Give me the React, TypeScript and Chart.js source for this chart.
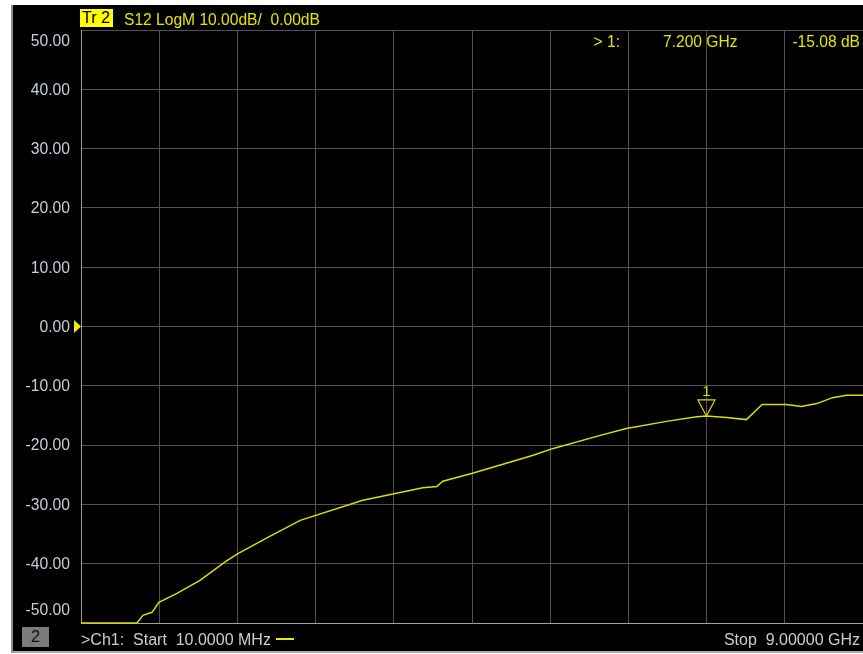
import React, { useEffect, useRef } from 'react';
import { Chart, registerables } from 'chart.js';

Chart.register(...registerables);

// ---- data ----
const START_GHZ = 0.01;
const STOP_GHZ = 9.0;
const freqGHz = [
  0.01, 0.653, 0.722, 0.826, 0.906, 1.113, 1.377, 1.687, 1.814, 2.18, 2.53, 3.25,
  3.94, 4.10, 4.17, 4.50, 5.20, 5.43, 5.97, 6.28, 6.74, 7.09, 7.20, 7.43, 7.66,
  7.73, 7.84, 8.12, 8.29, 8.47, 8.65, 8.81, 9.0,
];
const s12dB = [
  -50.0, -50.0, -48.7, -48.2, -46.5, -45.0, -42.8, -39.5, -38.3, -35.4, -32.7, -29.3,
  -27.2, -27.0, -26.1, -24.8, -21.75, -20.6, -18.4, -17.2, -16.0, -15.2, -15.08, -15.35, -15.7,
  -14.7, -13.15, -13.15, -13.5, -13.0, -12.0, -11.6, -11.6,
];
const yTicks = [50, 40, 30, 20, 10, 0, -10, -20, -30, -40, -50];
const yTickLabels = ['50.00', '40.00', '30.00', '20.00', '10.00', '0.00', '-10.00', '-20.00', '-30.00', '-40.00', '-50.00'];
const X_DIVISIONS = 10;
const REF_LEVEL = 0;
const MARKER_FREQ = 7.2;
const MARKER_DB = -15.08;
const MARKER_LABEL = '1';

// ---- styles ----
const TRACE = '#dede00';
const GRID = '#525252';
const BORDER = '#a0a0a0';
const LABEL = '#c6ceda';
const YELLOW_TXT = '#e4e400';
const FONT = '"Liberation Sans", Arial, sans-serif';

const overlay = {
  id: 'vnaOverlay',
  afterDraw(chart: any) {
    const ctx = chart.ctx;
    const xs = chart.scales.x;
    const ys = chart.scales.y;
    const { top, bottom, left } = chart.chartArea;
    ctx.save();
    // y tick labels
    ctx.font = `15.7px ${FONT}`;
    ctx.fillStyle = LABEL;
    ctx.textAlign = 'right';
    ctx.textBaseline = 'middle';
    yTicks.forEach((v, i) => {
      let py = ys.getPixelForValue(v);
      py = Math.min(Math.max(py, top + 11), bottom - 13);
      ctx.fillText(yTickLabels[i], left - 11, py + 1);
    });
    // reference level arrow
    const p0 = ys.getPixelForValue(REF_LEVEL);
    ctx.fillStyle = '#f0f000';
    ctx.beginPath();
    ctx.moveTo(left - 7, p0 - 6.5);
    ctx.lineTo(left, p0);
    ctx.lineTo(left - 7, p0 + 6.5);
    ctx.closePath();
    ctx.fill();
    // marker
    const mx = xs.getPixelForValue(MARKER_FREQ);
    const my = ys.getPixelForValue(MARKER_DB);
    ctx.strokeStyle = TRACE;
    ctx.lineWidth = 1.2;
    ctx.beginPath();
    ctx.moveTo(mx, my);
    ctx.lineTo(mx - 8.5, my - 16);
    ctx.lineTo(mx + 8.5, my - 16);
    ctx.closePath();
    ctx.stroke();
    ctx.fillStyle = TRACE;
    ctx.font = `15px ${FONT}`;
    ctx.textAlign = 'center';
    ctx.textBaseline = 'alphabetic';
    ctx.fillText(MARKER_LABEL, mx, my - 19.5);
    ctx.restore();
  },
};

const txt = (extra: React.CSSProperties): React.CSSProperties => ({
  position: 'absolute',
  fontFamily: FONT,
  fontSize: 15.6,
  lineHeight: '15px',
  whiteSpace: 'pre',
  ...extra,
});

export default function App() {
  const ref = useRef<HTMLCanvasElement | null>(null);
  useEffect(() => {
    if (!ref.current) return;
    const xGrid: number[] = [];
    for (let i = 0; i <= X_DIVISIONS; i++) xGrid.push(START_GHZ + (i * (STOP_GHZ - START_GHZ)) / X_DIVISIONS);
    const chart = new Chart(ref.current, {
      type: 'line',
      data: {
        datasets: [
          {
            data: freqGHz.map((f, i) => ({ x: f, y: s12dB[i] })),
            borderColor: TRACE,
            borderWidth: 1.5,
            pointRadius: 0,
            tension: 0,
            clip: 3,
          } as any,
        ],
      },
      options: {
        responsive: false,
        animation: false,
        devicePixelRatio: 1,
        layout: { padding: { left: 81, top: 30, right: 0, bottom: 31 } },
        plugins: { legend: { display: false }, tooltip: { enabled: false } },
        scales: {
          x: {
            type: 'linear',
            min: START_GHZ,
            max: STOP_GHZ,
            afterBuildTicks: (s: any) => {
              s.ticks = xGrid.map((v) => ({ value: v }));
            },
            ticks: { display: false },
            grid: { color: GRID, drawTicks: false, lineWidth: 1 },
            border: { color: BORDER, width: 1 },
          },
          y: {
            min: -50,
            max: 50,
            afterBuildTicks: (s: any) => {
              s.ticks = yTicks.map((v) => ({ value: v }));
            },
            ticks: { display: false },
            grid: { color: GRID, drawTicks: false, lineWidth: 1 },
            border: { color: BORDER, width: 1 },
          },
        },
      } as any,
      plugins: [overlay],
    });
    return () => chart.destroy();
  }, []);

  return (
    <div style={{ position: 'fixed', left: 0, top: 0, width: 863, height: 654, background: '#fff', overflow: 'hidden' }}>
      <div
        style={{
          position: 'absolute',
          left: 11,
          top: 5,
          width: 852,
          height: 648,
          background: '#000',
          boxSizing: 'border-box',
          borderLeft: '2px solid #8c8c8c',
          borderBottom: '2px solid #a8a8a8',
        }}
      />
      <canvas ref={ref} width={863} height={654} style={{ position: 'absolute', left: 0, top: 0, width: 863, height: 654 }} />
      {/* header */}
      <div style={txt({ left: 80, top: 9, width: 33, height: 18, background: '#ffff00', color: '#000', lineHeight: '18px', paddingLeft: 2, boxSizing: 'border-box', fontSize: 16 })}>Tr 2</div>
      <div style={txt({ left: 124, top: 12, color: YELLOW_TXT })}>S12 LogM 10.00dB/  0.00dB</div>
      {/* marker readout */}
      <div style={txt({ left: 560, width: 60, top: 34, color: YELLOW_TXT, textAlign: 'right' })}>{'> 1:'}</div>
      <div style={txt({ left: 663, top: 34, color: YELLOW_TXT })}>7.200 GHz</div>
      <div style={txt({ left: 760, width: 100, top: 34, color: YELLOW_TXT, textAlign: 'right' })}>-15.08 dB</div>
      {/* footer */}
      <div style={txt({ left: 22, top: 627, width: 27, height: 20, background: '#7c7c7c', color: '#111', textAlign: 'center', lineHeight: '20px', fontSize: 16 })}>2</div>
      <div style={txt({ left: 81, top: 632, color: LABEL, fontSize: 16 })}>{'>Ch1:  Start  10.0000 MHz'}</div>
      <div style={{ position: 'absolute', left: 276, top: 638, width: 18, height: 2, background: '#e8e800' }} />
      <div style={txt({ left: 700, width: 160, top: 632, color: LABEL, textAlign: 'right', fontSize: 16 })}>Stop  9.00000 GHz</div>
    </div>
  );
}
